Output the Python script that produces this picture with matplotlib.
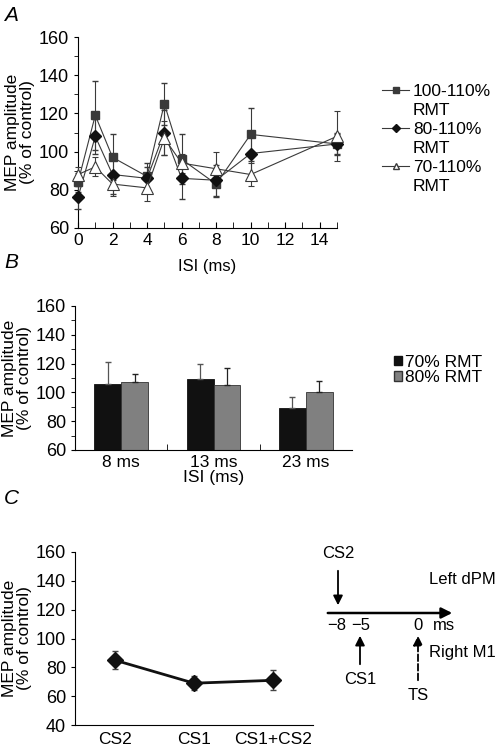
import matplotlib
matplotlib.use("Agg")
import matplotlib.pyplot as plt
from matplotlib.lines import Line2D
from matplotlib.patches import Patch
from matplotlib.ticker import MultipleLocator

plt.rcParams['font.family'] = ['Liberation Sans', 'DejaVu Sans']
plt.rcParams['font.size'] = 12

# panel A: MEP amplitude vs ISI for three intensity ranges
isi = [0, 1, 2, 4, 5, 6, 8, 10, 15]
mep_100 = [84, 119, 97, 87, 125, 96, 83, 109, 104]
err_100 = [5, 18, 12, 7, 11, 13, 7, 14, 5]
mep_80 = [76, 108, 88, 86, 110, 86, 85, 99, 104]
err_80 = [6, 9, 10, 6, 12, 11, 8, 11, 6]
mep_70 = [88, 92, 83, 81, 107, 94, 91, 88, 108]
err_70 = [4, 5, 6, 7, 9, 5, 9, 6, 13]
labels_a = ['100-110%', '80-110%', '70-110%']

# panel B: bar chart
isi_b = ['8 ms', '13 ms', '23 ms']
mep_b70 = [106, 109, 89]
err_b70 = [15, 11, 8]
mep_b80 = [107, 105, 100]
err_b80 = [6, 12, 8]
labels_b = ['70% RMT', '80% RMT']

# panel C
cond_c = ['CS2', 'CS1', 'CS1+CS2']
mep_c = [85, 69, 71]
err_c = [6, 5, 7]

W, H = 496, 748
fig = plt.figure(figsize=(W / 100, H / 100), dpi=100)


def box(l, t, r, b):
    return [l / W, 1 - b / H, (r - l) / W, (b - t) / H]


def style(ax):
    for s in ['top', 'right']:
        ax.spines[s].set_visible(False)
    for s in ['left', 'bottom']:
        ax.spines[s].set_linewidth(0.8)
    ax.set_ylabel('MEP amplitude\n(% of control)', linespacing=1.0, fontsize=12.5,
                  labelpad=3)
    ax.tick_params(axis='y', labelsize=13)


def noclip(cont):
    for art in cont.get_children():
        art.set_clip_on(False)


# ---- A
ax = fig.add_axes(box(78, 37, 337, 228))
style(ax)
dark = '#3a3a3a'
noclip(ax.errorbar(isi, mep_100, yerr=err_100, color=dark, lw=0.8, marker='s', ms=6,
                   mfc=dark, mec=dark, capsize=2, elinewidth=0.8, zorder=3))
noclip(ax.errorbar(isi, mep_80, yerr=err_80, color=dark, lw=0.8, marker='D', ms=6,
                   mfc='#111111', mec='#111111', capsize=2, elinewidth=0.8, zorder=3))
noclip(ax.errorbar(isi, mep_70, yerr=err_70, color=dark, lw=0.8, marker='^', ms=8,
                   mfc='white', mec=dark, mew=0.8, capsize=2, elinewidth=0.8, zorder=3))
ax.set_xlim(0, 15)
ax.set_ylim(60, 160)
ax.set_xticks(range(0, 15, 2))
ax.xaxis.set_minor_locator(MultipleLocator(1))
ax.yaxis.set_major_locator(MultipleLocator(20))
ax.yaxis.set_minor_locator(MultipleLocator(10))
ax.tick_params(axis='x', which='both', direction='in', length=4, labelsize=12.5)
ax.tick_params(axis='y', which='both', direction='out', length=3)
ax.set_xlabel('ISI (ms)', labelpad=8)

# legend: each label on one row, 'RMT' on a second row without a handle
marks = [
    Line2D([], [], color=dark, lw=0.8, marker='s', ms=5, mfc=dark, mec=dark),
    Line2D([], [], color=dark, lw=0.8, marker='D', ms=4, mfc='#111111', mec='#111111'),
    Line2D([], [], color=dark, lw=0.8, marker='^', ms=5, mfc='white', mec=dark),
]
handles_a, texts_a = [], []
for m, lab in zip(marks, labels_a):
    handles_a += [m, Line2D([], [], alpha=0)]
    texts_a += [lab, 'RMT']
fig.legend(handles_a, texts_a, loc='upper left', bbox_to_anchor=(366 / W, 1 - 68 / H),
           frameon=False, handlelength=1.6, handletextpad=0.2, labelspacing=0.22,
           fontsize=12.5)

# ---- B
bx = fig.add_axes(box(75, 306, 352, 450))
style(bx)
pos = [i + 0.5 for i in range(len(isi_b))]
w = 0.29
bx.bar([p - w / 2 for p in pos], mep_b70, width=w, color='#111111', edgecolor='#111111',
       lw=0.6, yerr=[[0] * 3, err_b70], error_kw=dict(ecolor='#555555', capsize=2, lw=0.9))
bx.bar([p + w / 2 for p in pos], mep_b80, width=w, color='#808080', edgecolor='#333333',
       lw=0.6, yerr=[[0] * 3, err_b80], error_kw=dict(ecolor='#222222', capsize=2, lw=0.9))
bx.set_xlim(0, 3)
bx.set_ylim(60, 160)
bx.set_xticks(pos)
bx.set_xticklabels(isi_b)
bx.set_xticks([1, 2], minor=True)
bx.tick_params(axis='x', which='major', length=0, labelsize=12.5)
bx.tick_params(axis='x', which='minor', direction='in', length=4)
bx.yaxis.set_major_locator(MultipleLocator(20))
bx.yaxis.set_minor_locator(MultipleLocator(10))
bx.tick_params(axis='y', which='both', direction='out', length=3)
bx.set_xlabel('ISI (ms)', labelpad=0, fontsize=12.5)

handles_b = [Patch(facecolor='#111111', edgecolor='#111111'),
             Patch(facecolor='#808080', edgecolor='#333333')]
fig.legend(handles_b, labels_b, loc='upper left', bbox_to_anchor=(378 / W, 1 - 339 / H),
           frameon=False, handlelength=0.5, handleheight=0.5, handletextpad=0.15,
           labelspacing=0.05, fontsize=12.5)

# ---- C
cx = fig.add_axes(box(75, 552, 313, 725))
style(cx)
xc = list(range(len(cond_c)))
cx.errorbar(xc, mep_c, yerr=err_c, color='#111111', lw=2, marker='D', ms=8,
            mfc='#111111', ecolor='#444444', elinewidth=1, capsize=2)
cx.set_xlim(-0.5, 2.5)
cx.set_ylim(40, 160)
cx.set_xticks(xc)
cx.set_xticklabels(cond_c)
cx.tick_params(axis='x', length=0, pad=5, labelsize=12.5)
cx.yaxis.set_major_locator(MultipleLocator(20))
cx.tick_params(axis='y', direction='out', length=3)

# ---- overlay: panel letters and timing diagram
ov = fig.add_axes([0, 0, 1, 1])
ov.set_xlim(0, W)
ov.set_ylim(H, 0)
ov.axis('off')
for letter, y in [('A', 15), ('B', 262), ('C', 498)]:
    ov.text(4, y, letter, fontsize=15, style='italic', va='center', ha='left')

ov.annotate('', xy=(455, 613), xytext=(325, 613),
            arrowprops=dict(arrowstyle='-|>', lw=1.8, color='k', mutation_scale=16))
ov.annotate('', xy=(338, 608), xytext=(338, 568),
            arrowprops=dict(arrowstyle='-|>', lw=1.3, color='k', mutation_scale=14))
ov.annotate('', xy=(360, 633), xytext=(360, 667),
            arrowprops=dict(arrowstyle='-|>', lw=1.3, color='k', mutation_scale=14))
ov.annotate('', xy=(418, 633), xytext=(418, 683),
            arrowprops=dict(arrowstyle='-|>', lw=1.3, ls='--', color='k', mutation_scale=14))
ov.text(338, 554, 'CS2', ha='center', va='center')
ov.text(496, 580, 'Left dPM', ha='right', va='center')
ov.text(337, 625, '\u22128', ha='center', va='center')
ov.text(361, 625, '\u22125', ha='center', va='center')
ov.text(418, 625, '0', ha='center', va='center')
ov.text(444, 625, 'ms', ha='center', va='center')
ov.text(496, 652, 'Right M1', ha='right', va='center')
ov.text(360, 679, 'CS1', ha='center', va='center')
ov.text(418, 696, 'TS', ha='center', va='center')

fig.savefig('out.png', dpi=100)
